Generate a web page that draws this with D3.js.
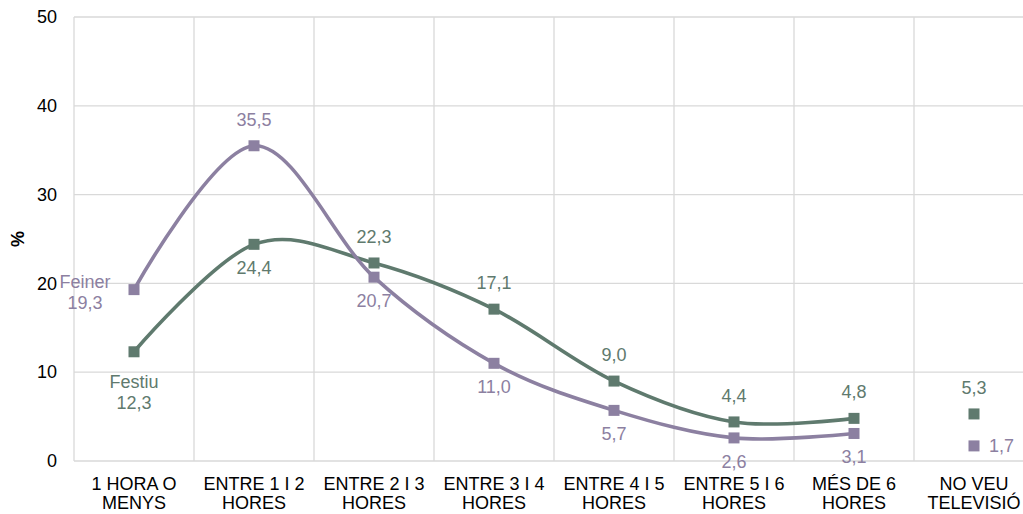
<!DOCTYPE html>
<html>
  <head>
    <meta charset="utf-8">
    <script src="https://d3js.org/d3.v7.min.js"></script>
    <style>
      body { margin: 0; background: #fff; font-family: "Liberation Sans", Arial, sans-serif; overflow: hidden; }
      svg { display: block; }
    </style>
  </head>
  <body>
    <div id="chart"></div>
    <script>
        // data
        var categories = ["1 HORA O|MENYS", "ENTRE 1 I 2|HORES", "ENTRE 2 I 3|HORES", "ENTRE 3 I 4|HORES",
                          "ENTRE 4 I 5|HORES", "ENTRE 5 I 6|HORES", "MÉS DE 6|HORES", "NO VEU|TELEVISIÓ"]
        var feiner = [19.3, 35.5, 20.7, 11.0, 5.7, 2.6, 3.1, 1.7]
        var festiu = [12.3, 24.4, 22.3, 17.1, 9.0, 4.4, 4.8, 5.3]
        var feinerLabelPos = ["left", "above", "below", "below", "below", "below", "below", "right"]
        var festiuLabelPos = ["below", "below", "above", "above", "above", "above", "above", "above"]
        var yTicks = [0, 10, 20, 30, 40, 50]
        // the last category is not joined to the line
        var linedCount = 7

        var width = 1023, height = 514
        var margin = {left: 74, top: 17, bottom: 53}

        var svg = d3.select("#chart").append("svg")
            .attr("width", width)
            .attr("height", height)

        var x = d3.scaleBand().domain(categories).range([margin.left, margin.left + 120 * categories.length])
        var y = d3.scaleLinear().domain([0, 50]).range([height - margin.bottom, margin.top])

        var grid = svg.append("g")
        grid.selectAll(".hgrid").data(yTicks).enter().append("line")
            .attr("x1", margin.left).attr("x2", x.range()[1])
            .attr("y1", function(d){ return y(d) }).attr("y2", function(d){ return y(d) })
            .attr("stroke", "#d9d9d9").attr("stroke-width", 1.3)
        grid.selectAll(".vgrid").data(categories.concat(["end"])).enter().append("line")
            .attr("x1", function(d, i){ return margin.left + i * x.step() })
            .attr("x2", function(d, i){ return margin.left + i * x.step() })
            .attr("y1", y(50)).attr("y2", y(0))
            .attr("stroke", "#d9d9d9").attr("stroke-width", 1.3)

        // y axis
        var yAxis = svg.append("g")
            .attr("transform", "translate(" + margin.left + ",0)")
            .call(d3.axisLeft(y).tickValues(yTicks).tickSize(0).tickPadding(17).tickFormat(d3.format("d")))
        yAxis.select(".domain").remove()
        yAxis.selectAll("text")
            .attr("font-family", "Liberation Sans, Arial, sans-serif")
            .attr("font-size", 18).attr("fill", "#000")

        svg.append("text")
            .attr("transform", "translate(24," + y(25) + ") rotate(-90)")
            .attr("text-anchor", "middle")
            .attr("font-size", 18).attr("font-weight", "bold")
            .text("%")

        // x axis labels (two lines)
        var xl = svg.append("g").selectAll(".xl").data(categories).enter().append("text")
            .attr("text-anchor", "middle")
            .attr("font-size", 18).attr("fill", "#000")
        xl.selectAll("tspan").data(function(d){ return d.split("|").map(function(t){ return {t: t, c: d} }) })
            .enter().append("tspan")
            .attr("x", function(d){ return x(d.c) + x.bandwidth() / 2 })
            .attr("y", function(d, i){ return 490 + i * 19 })
            .text(function(d){ return d.t })

        var series = [
            {name: "Festiu", values: festiu, pos: festiuLabelPos, color: "#5f7a6e"},
            {name: "Feiner", values: feiner, pos: feinerLabelPos, color: "#8c80a1"}
        ]

        var line = d3.line()
            .x(function(d, i){ return x(categories[i]) + x.bandwidth() / 2 })
            .y(function(d){ return y(d) })
            .curve(d3.curveCatmullRom.alpha(0))

        series.forEach(function(s){
            var g = svg.append("g")
            g.append("path")
                .attr("d", line(s.values.slice(0, linedCount)))
                .attr("fill", "none")
                .attr("stroke", s.color)
                .attr("stroke-width", 3.6)

            g.selectAll("rect").data(s.values).enter().append("rect")
                .attr("x", function(d, i){ return x(categories[i]) + x.bandwidth() / 2 - 5.5 })
                .attr("y", function(d){ return y(d) - 5.5 })
                .attr("width", 11).attr("height", 11)
                .attr("fill", s.color)

            s.values.forEach(function(v, i){
                var px = x(categories[i]) + x.bandwidth() / 2
                var py = y(v)
                var lines = [d3.format(".1f")(v).replace(".", ",")]
                if (i == 0) lines.unshift(s.name)
                var pos = s.pos[i]
                var t = g.append("text")
                    .attr("font-size", 18).attr("fill", s.color)
                var lx = px, ly, anchor = "middle"
                if (pos == "above") ly = py - 20 - (lines.length - 1) * 21
                if (pos == "below") ly = py + (lines.length > 1 ? 36 : 30)
                if (pos == "left") { lx = px - 49; ly = py - 2 }
                if (pos == "right") { lx = px + 15; ly = py + 6; anchor = "start" }
                t.attr("text-anchor", anchor)
                lines.forEach(function(l, k){
                    t.append("tspan").attr("x", lx).attr("y", ly + k * 21).text(l)
                })
            })
        })
    </script>
  </body>
</html>
